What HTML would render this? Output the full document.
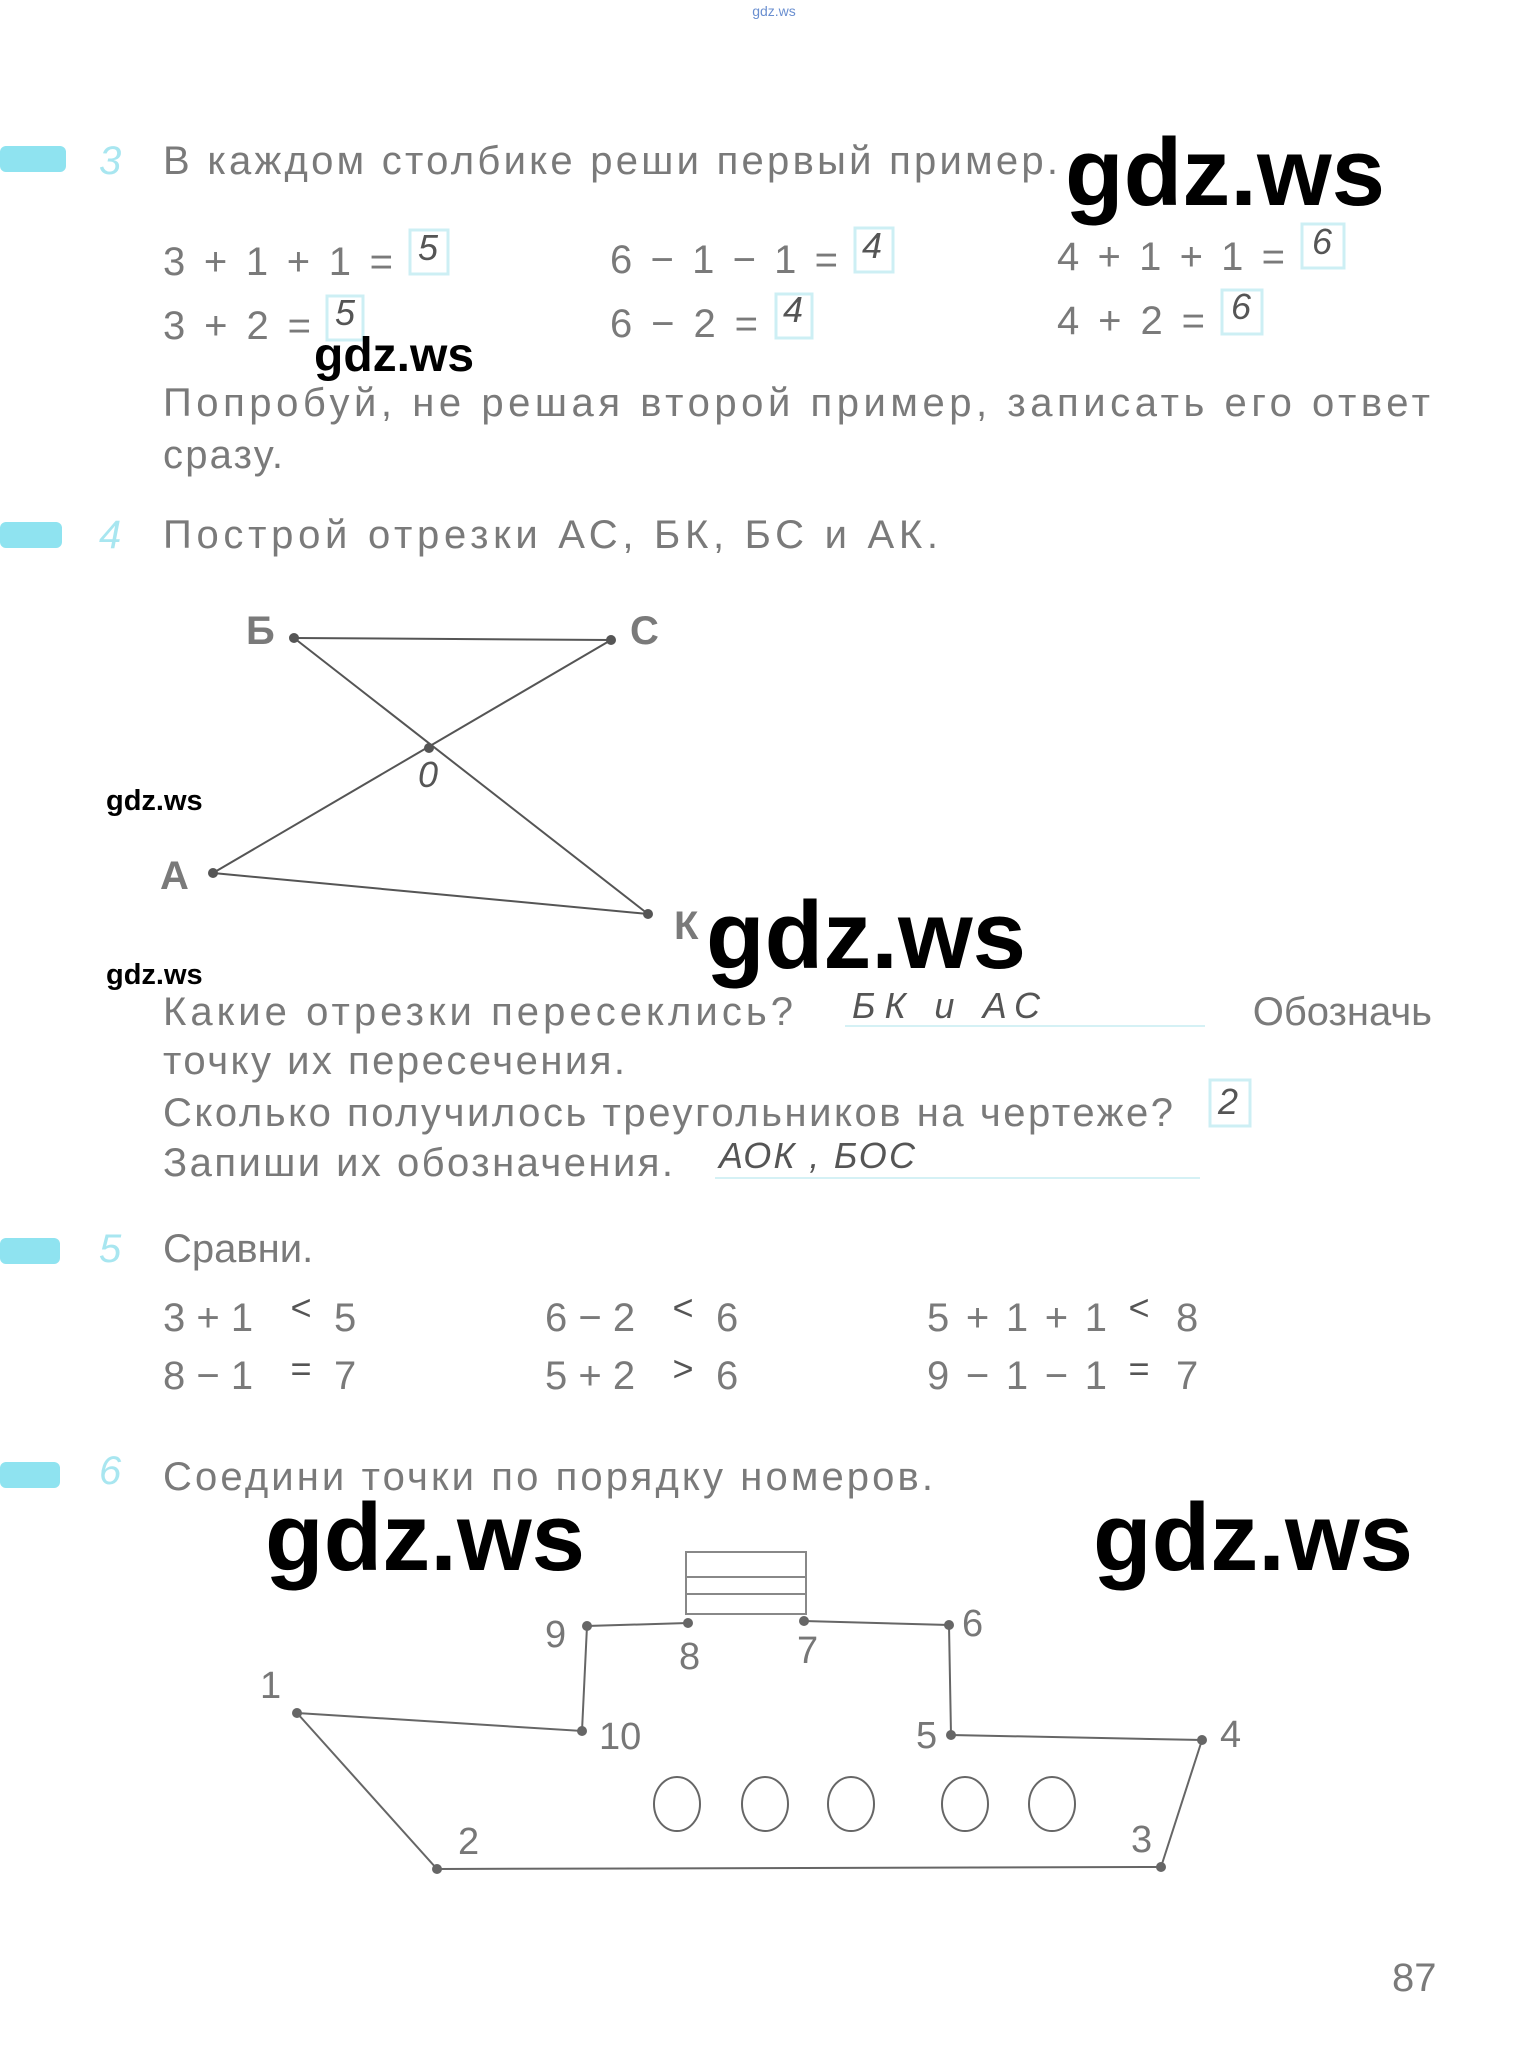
<!DOCTYPE html>
<html><head><meta charset="utf-8"><style>
html,body{margin:0;padding:0;background:#fff}
svg{display:block}
.t{font-family:"Liberation Sans",sans-serif;font-size:40px;fill:#7a7a7a}
.h{font-family:"Liberation Sans",sans-serif;font-style:italic;font-size:36px;fill:#555}
.w{font-family:"Liberation Sans",sans-serif;font-weight:bold;fill:#000}
.n{font-family:"Liberation Sans",sans-serif;font-size:38px;fill:#777}
.bar{fill:#8fe3f0}
.num{font-family:"Liberation Sans",sans-serif;font-style:italic;font-size:40px;fill:#a8e6f0}
.box{fill:none;stroke:#cdeff4;stroke-width:3}
</style></head><body>
<svg width="1537" height="2063" viewBox="0 0 1537 2063" xmlns="http://www.w3.org/2000/svg">
<text x="774" y="16" font-family="Liberation Sans,sans-serif" font-size="14" fill="#6a8fd0" text-anchor="middle">gdz.ws</text>

<rect class="bar" x="0" y="146" width="66" height="26" rx="6"/>
<text class="num" x="99" y="174">3</text>
<text class="t" x="163" y="174" textLength="895" lengthAdjust="spacing">В каждом столбике реши первый пример.</text>
<text class="w" x="1065" y="205" font-size="96">gdz.ws</text>

<text class="t" x="163" y="275" font-size="44" textLength="230" lengthAdjust="spacing">3 + 1 + 1 =</text>
<rect class="box" x="410" y="230" width="38" height="44"/><text class="h" x="418" y="260">5</text>
<text class="t" x="610" y="273" font-size="44" textLength="228" lengthAdjust="spacing">6 − 1 − 1 =</text>
<rect class="box" x="855" y="228" width="38" height="44"/><text class="h" x="862" y="258">4</text>
<text class="t" x="1057" y="270" font-size="44" textLength="228" lengthAdjust="spacing">4 + 1 + 1 =</text>
<rect class="box" x="1302" y="224" width="42" height="44"/><text class="h" x="1312" y="254">6</text>

<text class="t" x="163" y="339" font-size="44" textLength="148" lengthAdjust="spacing">3 + 2 =</text>
<rect class="box" x="327" y="296" width="36" height="44"/><text class="h" x="335" y="325">5</text>
<text class="t" x="610" y="337" font-size="44" textLength="148" lengthAdjust="spacing">6 − 2 =</text>
<rect class="box" x="776" y="294" width="36" height="44"/><text class="h" x="783" y="322">4</text>
<text class="t" x="1057" y="334" font-size="44" textLength="148" lengthAdjust="spacing">4 + 2 =</text>
<rect class="box" x="1222" y="290" width="40" height="44"/><text class="h" x="1231" y="319">6</text>

<text class="w" x="314" y="371" font-size="48">gdz.ws</text>
<text class="t" x="163" y="416" textLength="1267" lengthAdjust="spacing">Попробуй, не решая второй пример, записать его ответ</text>
<text class="t" x="163" y="468" textLength="120" lengthAdjust="spacing">сразу.</text>

<rect class="bar" x="0" y="522" width="62" height="26" rx="6"/>
<text class="num" x="99" y="548">4</text>
<text class="t" x="163" y="548" textLength="775" lengthAdjust="spacing">Построй отрезки АС, БК, БС и АК.</text>

<g stroke="#555" stroke-width="2" fill="none">
<line x1="294" y1="638" x2="611" y2="640"/>
<line x1="294" y1="638" x2="648" y2="914"/>
<line x1="611" y1="640" x2="213" y2="873"/>
<line x1="213" y1="873" x2="648" y2="914"/>
</g>
<g fill="#555"><circle cx="294" cy="638" r="5"/><circle cx="611" cy="640" r="5"/><circle cx="429" cy="748" r="5"/><circle cx="213" cy="873" r="5"/><circle cx="648" cy="914" r="5"/></g>
<text class="t" x="246" y="644" font-weight="bold" font-size="36">Б</text>
<text class="t" x="630" y="644" font-weight="bold" font-size="36">С</text>
<text class="t" x="160" y="889" font-weight="bold" font-size="36">А</text>
<text class="t" x="674" y="939" font-weight="bold" font-size="36">К</text>
<text class="h" x="418" y="787" font-size="28">0</text>
<text class="w" x="106" y="810" font-size="29" font-weight="normal">gdz.ws</text>
<text class="w" x="706" y="968" font-size="96">gdz.ws</text>
<text class="w" x="106" y="984" font-size="29" font-weight="normal">gdz.ws</text>

<text class="t" x="163" y="1025" textLength="630" lengthAdjust="spacing">Какие отрезки пересеклись?</text>
<text class="h" x="852" y="1018" font-size="34" textLength="188" lengthAdjust="spacing">БК и АС</text>
<line x1="845" y1="1026" x2="1205" y2="1026" stroke="#d5f1f5" stroke-width="2"/>
<text class="t" x="1432" y="1025" text-anchor="end">Обозначь</text>
<text class="t" x="163" y="1074" textLength="462" lengthAdjust="spacing">точку их пересечения.</text>
<text class="t" x="163" y="1126" textLength="1010" lengthAdjust="spacing">Сколько получилось треугольников на чертеже?</text>
<rect class="box" x="1210" y="1080" width="40" height="46"/><text class="h" x="1218" y="1114">2</text>
<text class="t" x="163" y="1176" textLength="510" lengthAdjust="spacing">Запиши их обозначения.</text>
<text class="h" x="719" y="1168" font-size="32" textLength="196" lengthAdjust="spacing">АОК , БОС</text>
<line x1="715" y1="1178" x2="1200" y2="1178" stroke="#d5f1f5" stroke-width="2"/>

<rect class="bar" x="0" y="1238" width="60" height="26" rx="6"/>
<text class="num" x="99" y="1262">5</text>
<text class="t" x="163" y="1262">Сравни.</text>
<text class="t" font-size="44" x="163" y="1331">3 + 1</text><text class="h" x="290" y="1320" font-size="30">&lt;</text><text class="t" font-size="44" x="334" y="1331">5</text>
<text class="t" font-size="44" x="163" y="1389">8 − 1</text><text class="h" x="290" y="1381" font-size="30">=</text><text class="t" font-size="44" x="334" y="1389">7</text>
<text class="t" font-size="44" x="545" y="1331">6 − 2</text><text class="h" x="672" y="1320" font-size="30">&lt;</text><text class="t" font-size="44" x="716" y="1331">6</text>
<text class="t" font-size="44" x="545" y="1389">5 + 2</text><text class="h" x="672" y="1381" font-size="30">&gt;</text><text class="t" font-size="44" x="716" y="1389">6</text>
<text class="t" font-size="44" x="927" y="1331" textLength="180" lengthAdjust="spacing">5 + 1 + 1</text><text class="h" x="1128" y="1320" font-size="30">&lt;</text><text class="t" font-size="44" x="1176" y="1331">8</text>
<text class="t" font-size="44" x="927" y="1389" textLength="180" lengthAdjust="spacing">9 − 1 − 1</text><text class="h" x="1128" y="1381" font-size="30">=</text><text class="t" font-size="44" x="1176" y="1389">7</text>

<rect class="bar" x="0" y="1462" width="60" height="26" rx="6"/>
<text class="num" x="99" y="1484">6</text>
<text class="t" x="163" y="1490" textLength="770" lengthAdjust="spacing">Соедини точки по порядку номеров.</text>
<text class="w" x="265" y="1570" font-size="96">gdz.ws</text>
<text class="w" x="1093" y="1570" font-size="96">gdz.ws</text>

<g transform="translate(0,-9)">
<g stroke="#666" stroke-width="2" fill="none">
<rect x="686" y="1561" width="120" height="62" stroke="#888"/>
<line x1="686" y1="1586" x2="806" y2="1586" stroke="#888"/>
<line x1="686" y1="1603" x2="806" y2="1603" stroke="#888"/>
<polyline points="297,1722 437,1878 1161,1876 1202,1749 951,1744 949,1634 804,1630"/>
<polyline points="688,1632 587,1635 582,1740 297,1722"/>
<ellipse cx="677" cy="1813" rx="23" ry="27"/>
<ellipse cx="765" cy="1813" rx="23" ry="27"/>
<ellipse cx="851" cy="1813" rx="23" ry="27"/>
<ellipse cx="965" cy="1813" rx="23" ry="27"/>
<ellipse cx="1052" cy="1813" rx="23" ry="27"/>
</g>
<g fill="#666">
<circle cx="297" cy="1722" r="5"/><circle cx="437" cy="1878" r="5"/><circle cx="1161" cy="1876" r="5"/><circle cx="1202" cy="1749" r="5"/><circle cx="951" cy="1744" r="5"/><circle cx="949" cy="1634" r="5"/><circle cx="804" cy="1630" r="5"/><circle cx="688" cy="1632" r="5"/><circle cx="587" cy="1635" r="5"/><circle cx="582" cy="1740" r="5"/>
</g>
<text class="n" x="260" y="1707">1</text>
<text class="n" x="458" y="1863">2</text>
<text class="n" x="1131" y="1861">3</text>
<text class="n" x="1220" y="1756">4</text>
<text class="n" x="916" y="1757">5</text>
<text class="n" x="962" y="1645">6</text>
<text class="n" x="797" y="1672">7</text>
<text class="n" x="679" y="1678">8</text>
<text class="n" x="545" y="1656">9</text>
<text class="n" x="599" y="1758">10</text>
</g>

<text class="t" x="1392" y="1991" font-size="40">87</text>
</svg>
</body></html>
